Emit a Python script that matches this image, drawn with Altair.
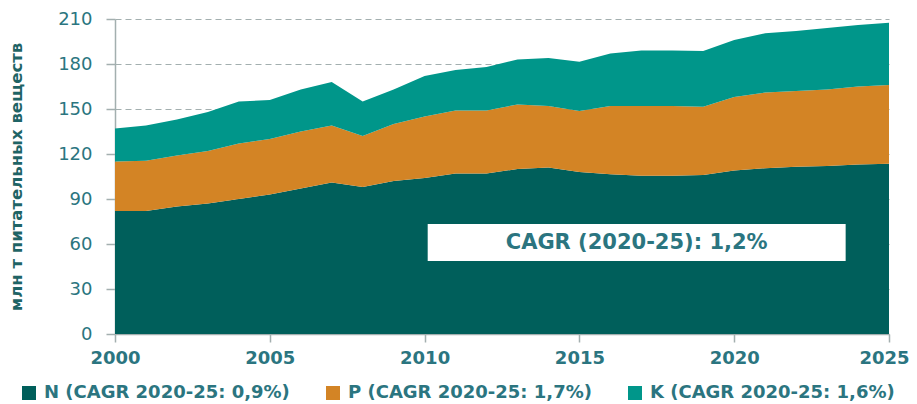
import altair as alt
import pandas as pd

years = list(range(2000, 2026))
n_vals = [82, 82, 85, 87, 90, 93, 97, 101, 98, 102, 104, 107, 107, 110, 111,
          108, 106.5, 105.5, 105.5, 106, 109, 110.5, 111.5, 112, 113, 113.5]
p_tops = [115, 115.5, 119, 122, 127, 130, 135, 139, 132, 140, 145, 149, 149, 153, 152,
          148.7, 152, 152, 152, 151.5, 158, 161, 162, 163, 165, 166]
k_tops = [137, 139, 143, 148, 155, 156, 163, 168, 155, 163, 172, 176, 178, 183, 184,
          181.5, 187, 189, 189, 188.7, 196, 200.5, 202, 204, 206, 207.5]

series_names = ["N (CAGR 2020-25: 0,9%)", "P (CAGR 2020-25: 1,7%)", "K (CAGR 2020-25: 1,6%)"]
series_colors = ["#005F5B", "#D38425", "#00968A"]

y_ticks = [0, 30, 60, 90, 120, 150, 180, 210]
x_ticks = [2000, 2005, 2010, 2015, 2020, 2025]

box_x = [2010.1, 2023.6]
box_y = [48.7, 73.3]
box_text = "CAGR (2020-25): 1,2%"
y_title = "млн т питательных веществ"

rows = []
for i, yr in enumerate(years):
    rows.append({"year": yr, "series": series_names[0], "order": 0, "value": n_vals[i]})
    rows.append({"year": yr, "series": series_names[1], "order": 1, "value": round(p_tops[i] - n_vals[i], 2)})
    rows.append({"year": yr, "series": series_names[2], "order": 2, "value": round(k_tops[i] - p_tops[i], 2)})
df = pd.DataFrame(rows)

text_color = "#2B7580"
grey = "#A3AFAF"
font = "DejaVu Sans"

x_scale = alt.Scale(domain=[2000, 2025], nice=False, zero=False)
y_scale = alt.Scale(domain=[0, 210], nice=False)

areas = alt.Chart(df).mark_area(interpolate="linear").encode(
    x=alt.X("year:Q", scale=x_scale,
            axis=alt.Axis(values=x_ticks, format="d", title=None, grid=False,
                          domainColor=grey, tickColor=grey, tickSize=8, labelPadding=7,
                          labelColor=text_color, labelFontSize=18, labelFont=font,
                          labelFontWeight="bold", labelFlush=False,
                          labelOffset={"condition": {"test": "datum.value == 2025", "value": -5},
                                       "value": 0})),
    y=alt.Y("value:Q", stack="zero", scale=y_scale,
            axis=alt.Axis(values=y_ticks, title=y_title, grid=True, gridDash=[6, 4],
                          gridColor=grey, gridWidth=1.2, domainColor=grey, tickColor=grey,
                          tickSize=9, labelPadding=14, labelColor=text_color,
                          labelFontSize=18, labelFont=font, titleFont=font,
                          titleFontSize=16.5, titleFontWeight="bold", titleColor="#1F6465",
                          titlePadding=33)),
    color=alt.Color("series:N", sort=series_names,
                    scale=alt.Scale(domain=series_names, range=series_colors),
                    legend=alt.Legend(title=None, orient="none", direction="horizontal",
                                      legendX=-95, legendY=365, symbolType="square",
                                      symbolSize=196, symbolStrokeWidth=0, labelFontSize=18,
                                      labelFont=font, labelFontWeight="bold",
                                      labelColor=text_color, columnPadding=34,
                                      labelLimit=400, symbolOffset=0, labelOffset=6)),
    order=alt.Order("order:Q"),
)

box_df = pd.DataFrame({"x": [box_x[0]], "x2": [box_x[1]], "y": [box_y[0]], "y2": [box_y[1]],
                       "xm": [(box_x[0] + box_x[1]) / 2], "ym": [(box_y[0] + box_y[1]) / 2],
                       "t": [box_text]})
box = alt.Chart(box_df).mark_rect(color="white").encode(
    x=alt.X("x:Q", scale=x_scale), x2="x2:Q",
    y=alt.Y("y:Q", scale=y_scale), y2="y2:Q")
box_label = alt.Chart(box_df).mark_text(font=font, fontSize=21, fontWeight="bold",
                                        color=text_color).encode(
    x=alt.X("xm:Q", scale=x_scale), y=alt.Y("ym:Q", scale=y_scale), text="t:N")

chart = alt.layer(areas, box, box_label).properties(
    width=774, height=315,
    padding={"left": 107, "top": 11, "right": 20, "bottom": 70},
    autosize=alt.AutoSizeParams(type="none"),
    background="white",
).configure_view(stroke=None).configure_axis(domainWidth=1.5, tickWidth=1.5)

chart.save("out.html", embed_options={"renderer": "svg", "actions": False})
